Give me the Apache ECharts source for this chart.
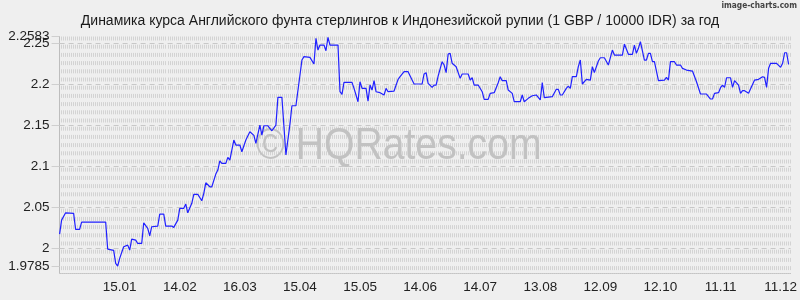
<!DOCTYPE html>
<html><head><meta charset="utf-8">
<script src="https://cdn.jsdelivr.net/npm/echarts@6/dist/echarts.min.js"></script>
<style>html,body{margin:0;padding:0;background:#efefef}#c{width:800px;height:300px}</style>
</head><body><div id="c"></div>
<script>
// days since 16.12.2024
const dayIndex = [
  0,1,3,7,8,10,11,23,24,27,28,29,30,32,34,35,36,38,39,41,
  42,44,45,46,49,50,52,53,56,57,59,60,62,63,64,66,67,69,71,72,
  73,75,76,78,79,80,81,83,84,85,87,88,90,91,93,95,97,98,100,101,
  102,104,106,108,109,111,113,115,116,118,121,122,125,127,128,129,130,132,133,134,
  135,139,140,141,142,146,147,149,150,151,153,154,155,156,157,158,160,162,163,164,
  167,169,170,172,174,176,177,181,182,183,184,186,187,188,189,191,192,193,194,195,
  196,198,200,201,204,205,206,207,209,211,212,214,215,217,219,220,221,223,224,226,
  227,230,231,232,234,236,238,240,241,242,246,248,249,250,251,253,254,255,256,258,
  259,260,261,263,265,266,267,269,270,272,274,276,277,281,282,284,286,287,288,289,
  290,292,293,294,295,296,297,299,302,303,304,305,307,308,310,311,313,316,318,320,
  323,325,326,327,329,330,331,332,333,335,336,337,339,340,341,342,344,347,349,351,
  352,353,354,355,358,360,361,362,363,364
];
const rates = [
  2.0174,2.0345,2.0434,2.0427,2.0232,2.0232,2.0321,2.0321,1.9992,1.9976,1.9817,1.9785,1.9878,2.002,2.004,1.998,2.0113,2.010,2.006,2.006,
  2.0312,2.0244,2.0154,2.0264,2.0272,2.0418,2.0418,2.0272,2.0272,2.0256,2.0345,2.0488,2.0488,2.054,2.0434,2.0549,2.0659,2.0659,2.0581,2.0671,
  2.08,2.0751,2.0751,2.0906,2.0955,2.1068,2.1037,2.1037,2.111,2.1077,2.1321,2.126,2.126,2.1178,2.1321,2.1422,2.1378,2.128,2.1503,2.1382,
  2.1495,2.1495,2.1434,2.1503,2.1841,2.1841,2.1138,2.1512,2.1739,2.1739,2.2296,2.2337,2.2329,2.2248,2.2561,2.2418,2.2479,2.2479,2.241,2.2573,
  2.2479,2.2479,2.191,2.1878,2.2024,2.2024,2.1951,2.1788,2.2032,2.1951,2.1951,2.1796,2.1991,2.193,2.2044,2.191,2.1898,2.187,2.1951,2.191,
  2.1918,2.2061,2.2093,2.2154,2.2154,2.2052,2.2004,2.2004,2.2126,2.2142,2.2012,2.1963,2.1991,2.1991,2.2101,2.2276,2.2235,2.2142,2.237,2.2378,
  2.2256,2.2215,2.2073,2.2126,2.2126,2.2052,2.208,2.1991,2.1991,2.191,2.1817,2.1817,2.189,2.1898,2.202,2.2093,2.2044,2.2044,2.193,2.189,
  2.1788,2.1788,2.187,2.1788,2.1829,2.1861,2.187,2.1809,2.202,2.1837,2.1849,2.1939,2.1939,2.187,2.187,2.1951,2.1979,2.1951,2.2093,2.2093,
  2.2215,2.2296,2.2004,2.2061,2.2052,2.2215,2.2142,2.2284,2.2324,2.2324,2.2235,2.2418,2.2357,2.2357,2.2491,2.2366,2.2366,2.2479,2.2378,2.2439,
  2.252,2.2296,2.2296,2.2378,2.2378,2.2276,2.2276,2.2044,2.2052,2.2085,2.2052,2.2276,2.2276,2.2235,2.2235,2.2195,2.2174,2.2162,2.2032,2.1882,
  2.1882,2.1821,2.1821,2.189,2.1898,2.1959,2.1991,2.1963,2.208,2.208,2.1963,2.2044,2.1991,2.189,2.1922,2.1922,2.189,2.2052,2.2061,2.2093,
  2.2085,2.1963,2.2195,2.2256,2.2256,2.2207,2.2256,2.2385,2.2385,2.2244
];
const yTickLabels = [1.9785, 2, 2.05, 2.1, 2.15, 2.2, 2.25];
const yMaxLabel = [2.2583];
const xTickDays = [30, 60, 90, 120, 150, 180, 210, 240, 270, 300, 330, 360];
const titleText = 'Динамика курса Английского фунта стерлингов к Индонезийской рупии (1 GBP / 10000 IDR) за год';

function dayLabel(d) {
  const dt = new Date(Date.UTC(2024, 11, 16 + Math.round(d)));
  const dd = String(dt.getUTCDate()).padStart(2, '0');
  const mm = String(dt.getUTCMonth() + 1).padStart(2, '0');
  return dd + '.' + mm;
}

const yMin = 1.97, yMax = 2.2583;
const majorLines = [2, 2.05, 2.1, 2.15, 2.2, 2.25, 2.2583].map(v => ({ yAxis: v }));

const chart = echarts.init(document.getElementById('c'), null, { renderer: 'canvas' });
const FONT = '"Liberation Sans", Arial, sans-serif';
const yLabelStyle = { margin: 10, color: '#222', fontFamily: FONT, fontSize: 13.5, hideOverlap: false,
  formatter: v => String(+(+v).toFixed(4)) };
chart.setOption({
  backgroundColor: '#efefef',
  animation: false,
  title: {
    text: titleText, left: 'center', top: 9,
    textStyle: { fontFamily: FONT, fontSize: 14, fontWeight: 'normal', color: '#1a1a1a' }
  },
  graphic: [
    { type: 'text', z: 1, left: 256, top: 124, scaleX: 0.87,
      style: { text: '© HQRates.com', fontFamily: FONT, fontSize: 45, fill: '#c2c2c2' } },
    { type: 'text', z: 1, right: 3, top: 2,
      style: { text: 'image-charts.com', fontFamily: '"DejaVu Sans Condensed", sans-serif', fontWeight: 'bold', fontSize: 8.3, fill: '#444' } }
  ],
  grid: { left: 59.6, right: 2, top: 36.5, bottom: 27, containLabel: false },
  xAxis: [{
    type: 'value', min: 0, max: 365, interval: 30,
    axisLine: { show: true, lineStyle: { color: '#c4c4c4', type: [1, 1] } },
    axisTick: { show: false },
    splitLine: { show: false },
    axisLabel: { margin: 7, color: '#222', fontFamily: FONT, fontSize: 13.5, hideOverlap: false,
      customValues: xTickDays, formatter: v => dayLabel(v) }
  }, {
    // dense vertical dashed grid that forms the light texture
    type: 'value', min: 0, max: 365, interval: 1, position: 'bottom',
    axisLine: { show: false }, axisTick: { show: false }, axisLabel: { show: false },
    splitLine: { show: true, lineStyle: { color: '#d3d3d3', width: 1, type: [4, 4.2] } }
  }],
  yAxis: [{
    type: 'value', min: yMin, max: yMax, position: 'left',
    axisLine: { show: true, lineStyle: { color: '#bdbdbd' } },
    axisTick: { show: true, length: 8, customValues: yTickLabels, lineStyle: { color: '#cfcfcf' } },
    splitLine: { show: false },
    axisLabel: Object.assign({ customValues: yTickLabels }, yLabelStyle)
  }, {
    type: 'value', min: yMin, max: yMax, position: 'left', offset: 0,
    axisLine: { show: false },
    axisTick: { show: true, length: 8, customValues: yMaxLabel, lineStyle: { color: '#cfcfcf' } },
    splitLine: { show: false },
    axisLabel: Object.assign({ customValues: yMaxLabel }, yLabelStyle)
  }],
  series: [
    { type: 'line', data: [], z: 0, silent: true, xAxisIndex: 0, yAxisIndex: 0,
      markLine: { silent: true, symbol: ['none', 'none'], label: { show: false }, animation: false,
        lineStyle: { color: '#c8c8c8', width: 1, type: [5, 4] }, data: majorLines } },
    { type: 'line', z: 5, showSymbol: false, silent: true, xAxisIndex: 0, yAxisIndex: 0,
      lineStyle: { color: '#2020ff', width: 1.2 },
      data: dayIndex.map((d, i) => [d, rates[i]]) }
  ]
});
</script></body></html>
